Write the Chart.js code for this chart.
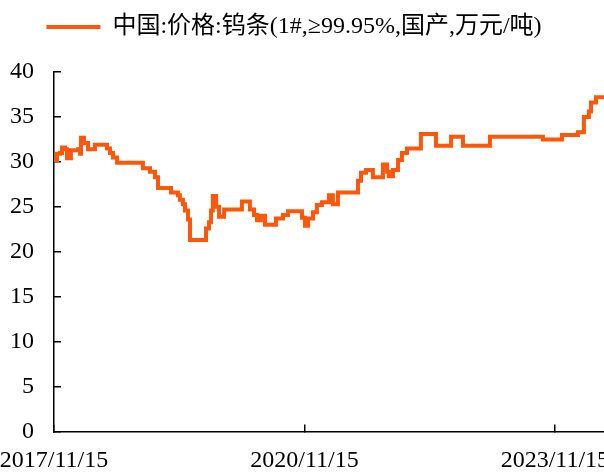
<!DOCTYPE html>
<html>
<head>
<meta charset="utf-8">
<script src="https://cdn.jsdelivr.net/npm/chart.js@4.4.1/dist/chart.umd.min.js"></script>
<style>
html, body { margin: 0; padding: 0; background: #fff; overflow: hidden; width: 604px; height: 473px; }
#wrap { width: 660px; height: 473px; position: relative; }
</style>
</head>
<body>
<div id="wrap"><canvas id="chart"></canvas></div>
<script>
// 数据：钨条价格（万元/吨）
const seriesName = '中国:价格:钨条(1#,≥99.95%,国产,万元/吨)';
const dates = [
  '2017-11-15','2017-11-28','2017-12-11','2017-12-20','2018-01-02','2018-01-11','2018-01-28','2018-02-28',
  '2018-03-09','2018-03-13','2018-03-26','2018-04-13','2018-05-13','2018-07-05','2018-07-18','2018-07-31',
  '2018-08-18','2018-12-09','2019-01-09','2019-01-31','2019-02-13','2019-04-11','2019-05-11','2019-05-20',
  '2019-06-02','2019-06-11','2019-06-24','2019-07-03','2019-09-11','2019-09-24','2019-10-03','2019-10-11',
  '2019-10-25','2019-11-07','2019-11-29','2020-02-15','2020-03-21','2020-04-08','2020-04-21','2020-05-08',
  '2020-05-26','2020-07-13','2020-08-13','2020-09-04','2020-11-04','2020-11-17','2020-11-30','2020-12-22',
  '2021-01-08','2021-01-30','2021-03-02','2021-03-19','2021-04-10','2021-07-07','2021-07-20','2021-08-11',
  '2021-09-10','2021-10-24','2021-11-11','2021-11-19','2021-12-07','2021-12-29','2022-01-15','2022-02-06',
  '2022-04-08','2022-06-13','2022-08-18','2022-10-09','2023-02-04','2023-09-24','2023-12-16','2024-02-24',
  '2024-03-21','2024-04-12','2024-04-21','2024-05-13','2024-06-17'
];
const prices = [
  30.2, 30.9, 31.0, 31.6, 31.4, 30.4, 31.3, 31.4,
  30.9, 32.7, 32.1, 31.4, 31.9, 31.5, 31.0, 30.5,
  29.9, 29.3, 28.9, 28.3, 27.1, 26.6, 26.3, 25.8,
  25.3, 24.6, 23.6, 21.3, 22.6, 23.3, 24.6, 26.2,
  25.0, 23.9, 24.7, 25.6, 24.7, 24.1, 23.5, 24.0,
  23.0, 23.7, 24.1, 24.5, 23.8, 22.9, 23.7, 24.4,
  25.2, 25.5, 26.3, 25.3, 26.6, 27.9, 28.8, 29.1,
  28.3, 29.7, 28.9, 28.4, 29.1, 30.2, 31.0, 31.5,
  33.1, 31.8, 32.8, 31.8, 32.8, 32.5, 33.0, 33.3,
  35.0, 35.6, 36.6, 37.2, 37.2
];
const tickDates = ['2017/11/15', '2020/11/15', '2023/11/15'];
const endDate = '2024/06/17';
const yMin = 0, yMax = 40, yStep = 5;

const lineColor = '#FD570C';
const fontFamily = '"Liberation Serif", "Times New Roman", "Noto Sans CJK SC", serif';

// 日期转换为天数
const DAY = 86400000;
function toDay(s) {
  const p = s.split(/[-\/]/).map(Number);
  return Date.UTC(p[0], p[1] - 1, p[2]) / DAY;
}
const startDay = toDay(tickDates[0]);
const points = dates.map((d, i) => ({ x: toDay(d) - startDay, y: prices[i] }));
const xTickValues = tickDates.map(d => toDay(d) - startDay);

// 图例位置微调（布局之后移动）
const legendShift = {
  id: 'legendShift',
  afterLayout(chart) {
    const lg = chart.legend;
    if (!lg) return;
    lg.left -= 8; lg.right -= 8;
    lg.top -= 23; lg.bottom -= 23;
  }
};

const ctx = document.getElementById('chart').getContext('2d');
new Chart(ctx, {
  type: 'line',
  data: {
    datasets: [{
      label: seriesName,
      data: points,
      borderColor: lineColor,
      backgroundColor: lineColor,
      borderWidth: 4,
      pointRadius: 0,
      stepped: true,
      fill: false
    }]
  },
  plugins: [legendShift],
  options: {
    responsive: true,
    maintainAspectRatio: false,
    animation: false,
    layout: { padding: { top: 28, right: 56, left: 0, bottom: 0 } },
    plugins: {
      tooltip: { enabled: false },
      legend: {
        position: 'top',
        align: 'center',
        labels: {
          boxWidth: 54,
          boxHeight: 4,
          padding: 10,
          color: '#000',
          font: { family: fontFamily, size: 24 },
          generateLabels: function (chart) {
            const labels = Chart.defaults.plugins.legend.labels.generateLabels(chart);
            labels.forEach(l => { l.lineWidth = 0; l.fillStyle = lineColor; });
            return labels;
          }
        }
      }
    },
    scales: {
      x: {
        type: 'linear',
        min: 0,
        max: toDay(endDate) - startDay,
        afterBuildTicks: s => { s.ticks = xTickValues.map(v => ({ value: v })); },
        afterFit: s => { s.height = 40; s.paddingLeft = 0; s.paddingRight = 0; },
        ticks: {
          autoSkip: false,
          maxRotation: 0,
          padding: 22,
          color: '#000',
          font: { family: fontFamily, size: 24 },
          callback: (v, i) => tickDates[i]
        },
        grid: { drawOnChartArea: false, tickLength: -7, color: '#000', lineWidth: 1.5 },
        border: { color: '#000', width: 1.5 }
      },
      y: {
        min: yMin,
        max: yMax,
        afterFit: s => { s.width = 54; },
        ticks: {
          stepSize: yStep,
          padding: 27,
          color: '#000',
          font: { family: fontFamily, size: 24 }
        },
        grid: { drawOnChartArea: false, tickLength: -7, color: '#000', lineWidth: 1.5 },
        border: { color: '#000', width: 1.5 }
      }
    }
  }
});
</script>
</body>
</html>
